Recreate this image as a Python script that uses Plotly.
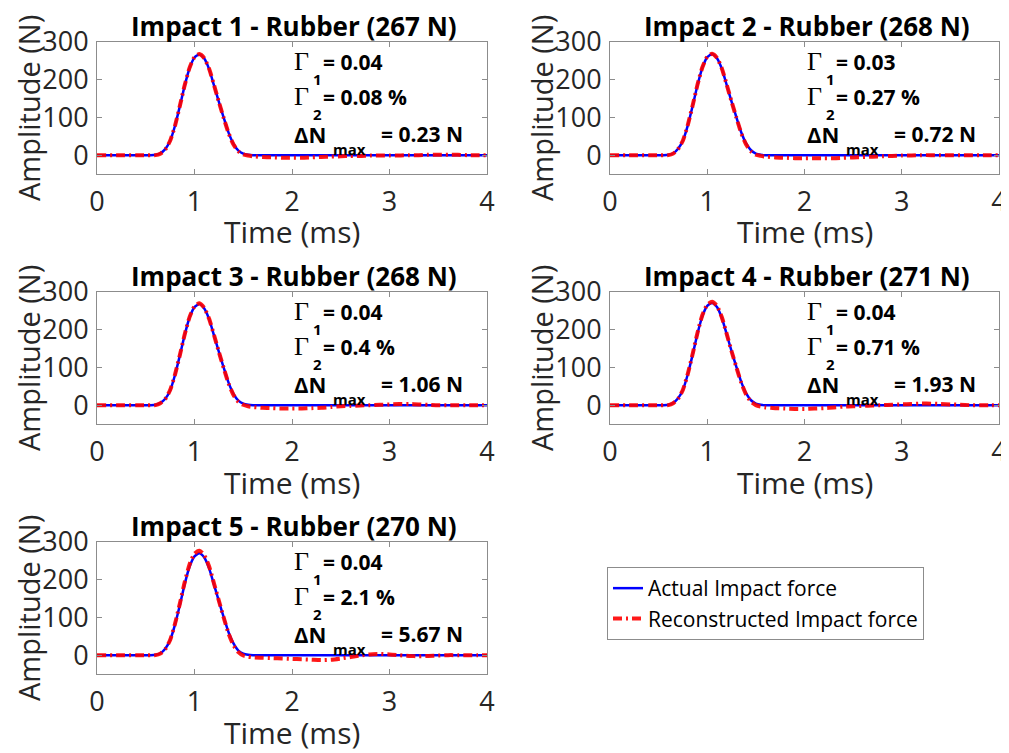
import plotly.graph_objects as go

# ---------------- data ----------------
time_ms = [0, 0.2, 0.4, 0.5, 0.55,
           0.6, 0.65, 0.7, 0.75, 0.8, 0.85, 0.9, 0.95, 1.0, 1.05, 1.1,
           1.15, 1.2, 1.25, 1.3, 1.35, 1.4, 1.45, 1.5, 1.55, 1.6,
           1.7, 1.8, 1.9, 2.0, 2.1, 2.2, 2.3, 2.4, 2.5, 2.6, 2.7, 2.8,
           2.9, 3.0, 3.1, 3.2, 3.3, 3.4, 3.5, 3.6, 3.7, 3.8, 3.9, 4.0]

ZEROS24 = [0] * 24

actual_1 = [0, 0, 0, 0, 0, 1, 5, 16, 38, 78, 130, 185, 231, 259, 267, 256, 228, 185, 141, 99, 59, 30, 12, 4, 1, 0] + ZEROS24
actual_2 = [0, 0, 0, 0, 0, 1, 5, 17, 39, 79, 131, 186, 232, 260, 268, 257, 229, 186, 142, 100, 60, 31, 13, 4, 1, 0] + ZEROS24
actual_3 = [0, 0, 0, 0, 0, 1, 6, 17, 39, 80, 132, 187, 233, 260, 268, 256, 228, 185, 141, 99, 59, 30, 12, 4, 1, 0] + ZEROS24
actual_4 = [0, 0, 0, 0, 0, 1, 6, 18, 41, 82, 134, 190, 236, 263, 271, 260, 231, 188, 143, 101, 61, 31, 13, 4, 1, 0] + ZEROS24
actual_5 = [0, 0, 0, 0, 0, 1, 5, 17, 40, 81, 133, 189, 235, 262, 270, 259, 230, 187, 143, 100, 60, 31, 12, 4, 1, 0] + ZEROS24

recon_1 = [0, 0, 0, 0, 0, 0, 4, 15, 38, 78, 131, 186, 232, 260, 268, 257, 229, 186, 141, 98, 58, 28, 10, 2, -1, -3,
           -5, -6, -7, -7, -7, -6, -5, -4, -3, -2, -2, -1, -1, -1, -1, 0, 0, 1, 1, 1, 1, 0, 0, 0]
recon_2 = [0, 0, 0, 0, 0, 0, 4, 16, 39, 80, 132, 187, 233, 261, 269, 258, 230, 187, 142, 99, 58, 28, 10, 1, -2, -4,
           -6, -7, -8, -8, -8, -8, -8, -7, -6, -5, -4, -3, -2, -1, -1, 0, 0, 0, 0, 0, 0, 0, 0, 0]
recon_3 = [0, 0, 0, 0, 0, 0, 5, 16, 40, 81, 133, 188, 234, 262, 270, 258, 229, 186, 141, 98, 57, 27, 9, 1, -3, -5,
           -7, -8, -9, -9, -9, -8, -7, -5, -3, -2, -1, 0, 1, 2, 3, 3, 2, 1, 0, 0, 0, 0, 0, 0]
recon_4 = [0, 0, 0, 0, 0, 0, 5, 17, 41, 83, 136, 192, 239, 266, 274, 263, 233, 189, 143, 100, 59, 28, 9, 0, -4, -6,
           -8, -9, -10, -10, -9, -8, -6, -4, -3, -2, -1, 0, 1, 2, 3, 4, 4, 3, 2, 1, 0, 0, 0, 0]
recon_5 = [0, 0, 0, 0, 0, 0, 4, 16, 40, 83, 137, 194, 241, 269, 277, 265, 235, 190, 144, 99, 57, 26, 8, -1, -4, -6,
           -7, -8, -9, -10, -11, -12, -13, -12, -9, -5, -1, 2, 3, 2, 0, -2, -3, -2, -1, 0, 0, 0, 0, 0]

actual_series = [actual_1, actual_2, actual_3, actual_4, actual_5]
recon_series = [recon_1, recon_2, recon_3, recon_4, recon_5]

impact_names = ["Impact 1", "Impact 2", "Impact 3", "Impact 4", "Impact 5"]
material = "Rubber"
peak_force_N = [267, 268, 268, 271, 270]
gamma1_vals = ["0.04", "0.03", "0.04", "0.04", "0.04"]
gamma2_vals = ["0.08", "0.27", "0.4", "0.71", "2.1"]
dNmax_vals = ["0.23", "0.72", "1.06", "1.93", "5.67"]

x_ticks = [0, 1, 2, 3, 4]
y_ticks = [0, 100, 200, 300]
x_range = [0, 4]
y_range = [-50, 300]

legend_actual = "Actual Impact force"
legend_recon = "Reconstructed Impact force"
x_title = "Time (ms)"
y_title = "Amplitude (N)"

# ---------------- layout geometry (reference pixel positions) ----------------
OFF = 8                      # page body margin
W, H = 1009 - OFF, 753 - OFF  # figure size so the figure ends at the window edge
col_px = [(97, 487), (610, 999)]
row_px = [(42, 174), (292, 424), (542, 674)]
cells = [(0, 0), (0, 1), (1, 0), (1, 1), (2, 0)]

FONT = "Open Sans"
SERIF = "Liberation Serif"
TXT = "#262626"
AX = "#8c8c8c"

fig = go.Figure()
annotations = []


def px_to_paper_x(px):
    return (px - OFF) / W


def px_to_paper_y(px):
    return 1 - (px - OFF) / H


for i in range(5):
    r, c = cells[i]
    x0, x1 = col_px[c]
    yt, yb = row_px[r]
    n = i + 1
    xa = "xaxis" if n == 1 else f"xaxis{n}"
    ya = "yaxis" if n == 1 else f"yaxis{n}"
    xref = "x" if n == 1 else f"x{n}"
    yref = "y" if n == 1 else f"y{n}"

    fig.add_trace(go.Scatter(x=time_ms, y=actual_series[i], mode="lines",
                             line=dict(color="#0000ff", width=2.5, shape="spline", smoothing=0.6),
                             name=legend_actual, showlegend=(i == 0), legendgroup="a",
                             xaxis=xref, yaxis=yref))
    fig.add_trace(go.Scatter(x=time_ms, y=recon_series[i], mode="lines",
                             line=dict(color="#ff0000", width=4, dash="9px,4px,2px,4px",
                                       shape="spline", smoothing=0.6),
                             opacity=0.9,
                             name=legend_recon, showlegend=(i == 0), legendgroup="r",
                             xaxis=xref, yaxis=yref))

    axis_common = dict(showline=True, linecolor=AX, linewidth=1, mirror="ticks",
                       ticks="inside", ticklen=5, tickcolor=AX, showgrid=False,
                       zeroline=False, automargin=False, ticklabeloverflow="allow",
                       tickfont=dict(family=FONT, size=27, color=TXT))
    fig.update_layout({
        xa: dict(domain=[px_to_paper_x(x0), px_to_paper_x(x1)], range=x_range,
                 tickvals=x_ticks, anchor=yref, ticklabelstandoff=4, **axis_common),
        ya: dict(domain=[px_to_paper_y(yb), px_to_paper_y(yt)], range=y_range,
                 tickvals=y_ticks, anchor=xref, ticklabelstandoff=2, **axis_common),
    })

    # title
    annotations.append(dict(x=px_to_paper_x((x0 + x1) / 2 + 2), y=px_to_paper_y(yt - 16),
                            xref="paper", yref="paper",
                            xanchor="center", yanchor="middle", showarrow=False,
                            text=f"<b>{impact_names[i]} - {material} ({peak_force_N[i]} N)</b>",
                            font=dict(family=FONT, size=26, color="#000000")))
    # axis titles
    annotations.append(dict(x=px_to_paper_x((x0 + x1) / 2), y=px_to_paper_y(yb + 58),
                            xref="paper", yref="paper",
                            xanchor="center", yanchor="middle", showarrow=False, text=x_title,
                            font=dict(family=FONT, size=30, color=TXT)))
    annotations.append(dict(x=px_to_paper_x(x0 - 69), y=px_to_paper_y((yt + yb) / 2),
                            xref="paper", yref="paper",
                            xanchor="center", yanchor="middle", showarrow=False, text=y_title,
                            textangle=-90, font=dict(family=FONT, size=29, color=TXT)))

    # statistics text, built from pieces (main text + lowered subscript)
    stat_lines = [
        # (y value, main symbol, symbol font, subscript, sub xshift, sub yshift, rest text, rest xshift)
        (248, "Γ", (SERIF, 26, False), "1", 19, -17, f"= {gamma1_vals[i]}", 29),
        (155, "Γ", (SERIF, 26, False), "2", 19, -17, f"= {gamma2_vals[i]} %", 29),
        (57, "ΔN", (FONT, 22, True), "max", 39, -15, f"= {dNmax_vals[i]} N", 87),
    ]
    for yv, sym, (sfam, ssize, sbold), sub, sub_dx, sub_dy, rest, rest_dx in stat_lines:
        annotations.append(dict(x=2.0, y=yv, xref=xref, yref=yref, xanchor="left", yanchor="middle",
                                showarrow=False, text=f"<b>{sym}</b>" if sbold else sym,
                                font=dict(family=sfam, size=ssize, color="#000000")))
        annotations.append(dict(x=2.0, y=yv, xref=xref, yref=yref, xanchor="left", yanchor="middle",
                                xshift=sub_dx, yshift=sub_dy, showarrow=False, text=f"<b>{sub}</b>",
                                font=dict(family=FONT, size=15, color="#000000")))
        annotations.append(dict(x=2.0, y=yv, xref=xref, yref=yref, xanchor="left", yanchor="middle",
                                xshift=rest_dx, showarrow=False, text=f"<b>{rest}</b>",
                                font=dict(family=FONT, size=21, color="#000000")))

fig.update_layout(
    width=W, height=H,
    margin=dict(l=0, r=0, t=0, b=0, autoexpand=False),
    paper_bgcolor="white", plot_bgcolor="white",
    annotations=annotations,
    legend=dict(x=px_to_paper_x(607), y=px_to_paper_y(567), xanchor="left", yanchor="top",
                bordercolor="#8c8c8c", borderwidth=1, bgcolor="white",
                font=dict(family=FONT, size=21, color="#000000"),
                itemwidth=30, tracegroupgap=0),
)

fig.write_html("out.html")
